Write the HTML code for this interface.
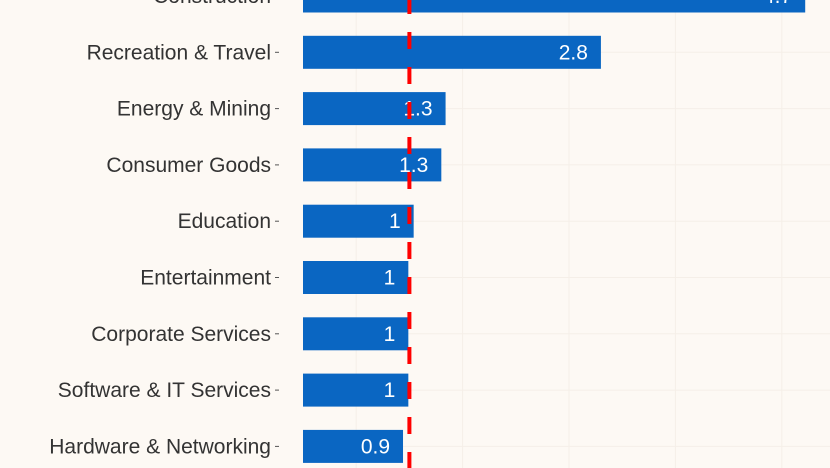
<!DOCTYPE html>
<html><head><meta charset="utf-8"><style>
html,body{margin:0;padding:0;background:#fdf9f4;}
svg{display:block;font-family:"Liberation Sans",sans-serif;}
</style></head><body>
<svg id="chart" width="830" height="468" xmlns="http://www.w3.org/2000/svg">
<rect width="830" height="468" fill="#fdf9f4"/>
<g id="grid"></g><g id="bars"></g><g id="labels"></g><g id="ref"></g>
</svg>
<script>
const categories=["Construction","Recreation & Travel","Energy & Mining","Consumer Goods","Education","Entertainment","Corporate Services","Software & IT Services","Hardware & Networking"];
const values=[4.72,2.8,1.34,1.3,1.04,0.99,0.99,0.99,0.94];
const gridTicks=[0.5,1.5,2.5,3.5,4.5];
const refValue=1.0;
const NS="http://www.w3.org/2000/svg";
const x0=303,unit=106.4;
const xs=v=>x0+v*unit;
const ys=i=>-4+i*56.3;
const barH=33;
function mk(t,a,p){const e=document.createElementNS(NS,t);for(const k in a)e.setAttribute(k,a[k]);p.appendChild(e);return e;}
const grid=document.getElementById('grid'),bars=document.getElementById('bars'),labels=document.getElementById('labels'),ref=document.getElementById('ref');
gridTicks.forEach(t=>{
  const l=mk('line',{x1:xs(t),x2:xs(t),y1:0,y2:468,stroke:'#f5efe8','stroke-width':1},grid);
  
  
});
categories.forEach((c,i)=>{
  const y=ys(i);
  const g=mk('line',{x1:x0,x2:830,y1:y,y2:y,stroke:'#f5efe8','stroke-width':1},grid);
  
  
  const r=mk('rect',{x:x0,y:y-barH/2,width:xs(values[i])-x0,height:barH,fill:'#0a66c2'},bars);
  
  
  const v=mk('text',{x:xs(values[i])-13,y:y+7,'text-anchor':'end','font-size':21,fill:'#ffffff'},labels);
  v.textContent=String(parseFloat(values[i].toFixed(1)));
  
  
  const t=mk('text',{x:271,y:y+7,'text-anchor':'end','font-size':21,fill:'#333333'},labels);
  t.textContent=c;
  
  
  const tk=mk('line',{x1:275,x2:279,y1:y,y2:y,stroke:'#555','stroke-width':1},labels);
  
  
});
const rl=mk('line',{x1:xs(refValue),x2:xs(refValue),y1:-3,y2:468,stroke:'#ff0000','stroke-width':4,'stroke-dasharray':'17 18'},ref);


</script>
</body></html>
